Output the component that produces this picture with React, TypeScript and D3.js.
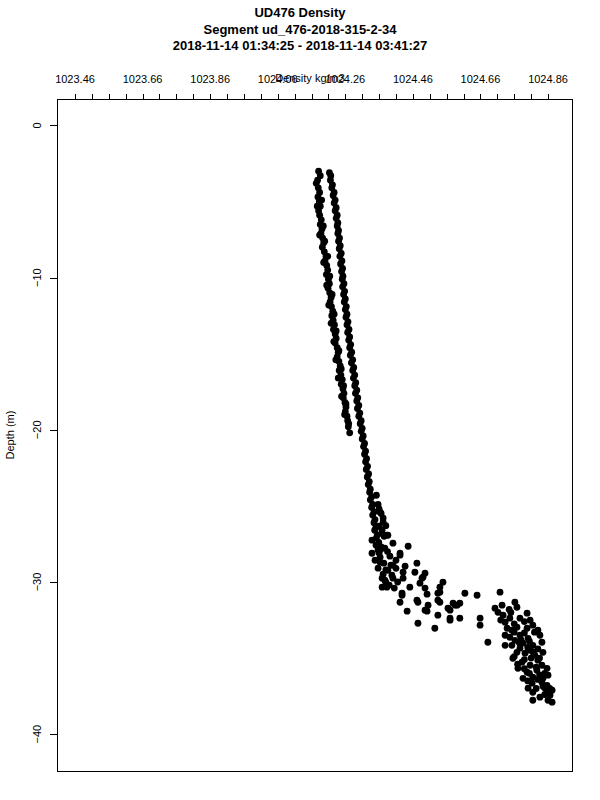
import React from "react";
import * as d3 from "d3";

const titleLines = [
  "UD476 Density",
  "Segment ud_476-2018-315-2-34",
  "2018-11-14 01:34:25 - 2018-11-14 03:41:27",
];
const xTitle = "Density kg/m3";
const yTitle = "Depth (m)";

const xLabelValues = [1023.46, 1023.66, 1023.86, 1024.06, 1024.26, 1024.46, 1024.66, 1024.86];
const xLabelTexts = ["1023.46", "1023.66", "1023.86", "1024.06", "1024.26", "1024.46", "1024.66", "1024.86"];
const yTickValues = [0, -10, -20, -30, -40];

// [density, depth]
const mainProfile: [number, number][] = [
  [1024.213,-3.1],[1024.217,-3.3],[1024.216,-3.6],[1024.222,-3.9],[1024.220,-4.1],[1024.227,-4.4],[1024.224,-4.6],[1024.230,-4.9],
  [1024.227,-5.1],[1024.233,-5.4],[1024.230,-5.6],[1024.236,-5.9],[1024.233,-6.1],[1024.238,-6.4],[1024.236,-6.6],[1024.240,-6.9],
  [1024.238,-7.1],[1024.243,-7.4],[1024.240,-7.6],[1024.245,-7.9],[1024.242,-8.1],[1024.248,-8.4],[1024.244,-8.6],[1024.250,-8.9],
  [1024.246,-9.1],[1024.252,-9.4],[1024.249,-9.6],[1024.253,-9.9],[1024.251,-10.1],[1024.256,-10.4],[1024.252,-10.6],[1024.258,-10.9],
  [1024.255,-11.1],[1024.260,-11.4],[1024.257,-11.6],[1024.263,-11.9],[1024.260,-12.1],[1024.265,-12.4],[1024.262,-12.6],[1024.268,-12.9],
  [1024.265,-13.1],[1024.271,-13.4],[1024.267,-13.6],[1024.273,-13.9],[1024.270,-14.1],[1024.276,-14.4],[1024.273,-14.6],[1024.279,-14.9],
  [1024.275,-15.1],[1024.282,-15.4],[1024.278,-15.6],[1024.285,-15.9],[1024.282,-16.1],[1024.288,-16.4],[1024.284,-16.6],[1024.291,-16.9],
  [1024.288,-17.1],[1024.294,-17.4],[1024.290,-17.6],[1024.297,-17.9],[1024.294,-18.1],[1024.300,-18.4],[1024.296,-18.6],[1024.303,-18.9],
  [1024.300,-19.1],[1024.307,-19.4],[1024.304,-19.6],[1024.310,-19.9],[1024.307,-20.1],[1024.313,-20.4],[1024.310,-20.6],[1024.317,-20.9],
  [1024.314,-21.1],[1024.320,-21.4],[1024.317,-21.6],[1024.323,-21.9],[1024.320,-22.1],[1024.326,-22.4],[1024.322,-22.6],[1024.329,-22.9],
  [1024.325,-23.1],[1024.331,-23.4],[1024.328,-23.6],[1024.334,-23.9],[1024.332,-24.1],[1024.338,-24.4],[1024.334,-24.6],[1024.341,-24.9],
  [1024.338,-25.1],[1024.345,-25.4],[1024.341,-25.6],[1024.348,-25.9],[1024.345,-26.1],[1024.351,-26.4],[1024.347,-26.6],[1024.355,-26.9],
  [1024.352,-27.1],[1024.359,-27.4],[1024.355,-27.6],[1024.363,-27.9],[1024.360,-28.1],
];

const leftBranch: [number, number][] = [
  [1024.181,-3.0],[1024.186,-3.3],[1024.178,-3.6],[1024.174,-3.8],[1024.180,-4.1],[1024.184,-4.4],[1024.179,-4.7],[1024.183,-5.0],
  [1024.186,-5.3],[1024.181,-5.6],[1024.184,-5.9],[1024.189,-6.2],[1024.186,-6.5],[1024.191,-6.8],[1024.188,-7.1],[1024.193,-7.4],
  [1024.196,-7.7],[1024.192,-8.0],[1024.198,-8.3],[1024.203,-8.6],[1024.200,-8.9],[1024.205,-9.2],[1024.208,-9.5],[1024.204,-9.8],
  [1024.210,-10.1],[1024.213,-10.4],[1024.209,-10.7],[1024.214,-11.0],[1024.218,-11.3],[1024.215,-11.6],[1024.219,-11.9],[1024.223,-12.2],
  [1024.220,-12.5],[1024.224,-12.8],[1024.228,-13.1],[1024.225,-13.4],[1024.230,-13.7],[1024.233,-14.0],[1024.230,-14.3],[1024.236,-14.6],
  [1024.239,-14.9],[1024.236,-15.2],[1024.241,-15.5],[1024.245,-15.8],[1024.242,-16.1],[1024.247,-16.4],[1024.251,-16.7],[1024.248,-17.0],
  [1024.253,-17.3],[1024.256,-17.6],[1024.254,-17.9],[1024.259,-18.2],[1024.262,-18.5],[1024.260,-18.8],[1024.265,-19.1],[1024.267,-19.4],
  [1024.269,-19.8],[1024.273,-20.2],
  [1024.190,-4.9],[1024.177,-5.3],[1024.195,-6.6],[1024.184,-7.2],[1024.199,-7.6],[1024.208,-8.6],[1024.196,-9.0],[1024.214,-9.9],
  [1024.205,-10.5],[1024.221,-11.1],[1024.211,-11.8],[1024.227,-12.4],[1024.218,-13.0],[1024.233,-13.5],[1024.226,-14.2],[1024.241,-14.8],
  [1024.232,-15.4],[1024.248,-16.0],[1024.239,-16.6],[1024.255,-17.1],[1024.249,-17.8],[1024.262,-18.3],[1024.258,-19.0],[1024.270,-19.6],
];

const transitionZone: [number, number][] = [
  [1024.339,-27.25],[1024.351,-27.58],[1024.357,-27.90],[1024.339,-28.11],[1024.363,-28.37],[1024.348,-28.57],[1024.374,-28.76],
  [1024.357,-29.09],[1024.386,-29.23],[1024.372,-29.49],[1024.398,-29.55],[1024.380,-30.01],[1024.360,-26.33],[1024.369,-26.59],
  [1024.377,-27.78],[1024.392,-28.30],[1024.410,-28.57],[1024.363,-25.41],[1024.372,-26.07],[1024.386,-26.92],[1024.401,-27.45],
  [1024.446,-27.65],[1024.422,-28.24],[1024.383,-26.92],[1024.422,-28.11],[1024.472,-28.76],[1024.466,-29.36],[1024.437,-28.96],
  [1024.496,-29.42],[1024.487,-29.75],[1024.481,-30.08],[1024.549,-30.01],[1024.540,-30.34],[1024.451,-30.34],[1024.428,-30.74],
  [1024.422,-31.33],[1024.475,-31.33],[1024.502,-30.80],[1024.505,-31.52],[1024.534,-30.74],[1024.540,-31.33],[1024.579,-31.39],
  [1024.591,-31.52],[1024.570,-31.85],[1024.614,-30.74],[1024.650,-30.87],[1024.443,-31.92],[1024.502,-31.92],[1024.570,-32.51],
  [1024.599,-32.38],[1024.534,-32.18],[1024.475,-32.71],[1024.525,-33.04],[1024.377,-29.88],[1024.369,-30.34],[1024.363,-28.70],
  [1024.401,-28.89],[1024.431,-29.36],[1024.490,-29.68],[1024.369,-29.75],[1024.401,-29.75],[1024.431,-29.75],[1024.383,-30.34],
  [1024.496,-30.40],[1024.540,-30.67],[1024.428,-30.87],[1024.472,-31.20],[1024.534,-31.20],[1024.718,-30.67],[1024.564,-31.72],
  [1024.585,-31.52],[1024.599,-31.39],[1024.496,-31.85],[1024.570,-32.38],[1024.659,-32.38],[1024.659,-32.84],[1024.703,-31.72],
  [1024.724,-31.52],[1024.682,-33.96],
  [1024.375,-27.0],[1024.366,-27.7],[1024.385,-28.0],[1024.395,-28.9],[1024.380,-29.2],[1024.410,-29.1],[1024.390,-30.2],
  [1024.415,-30.0],[1024.405,-30.4],[1024.368,-26.8],[1024.380,-26.3],[1024.372,-25.8],[1024.360,-25.2],[1024.352,-24.3],
  [1024.357,-24.9],[1024.366,-25.5],
];

const deepCluster: [number, number][] = [
  [1024.727,-32.18],[1024.747,-32.38],[1024.777,-32.38],[1024.798,-32.05],[1024.807,-32.51],[1024.739,-33.04],[1024.768,-32.97],
  [1024.798,-33.04],[1024.815,-32.84],[1024.836,-33.50],[1024.747,-33.63],[1024.777,-33.50],[1024.801,-33.70],[1024.753,-34.16],
  [1024.786,-34.02],[1024.815,-34.16],[1024.842,-33.96],[1024.768,-34.62],[1024.792,-34.68],[1024.821,-34.81],[1024.845,-34.62],
  [1024.756,-35.01],[1024.783,-35.27],[1024.807,-35.47],[1024.842,-35.47],[1024.857,-35.67],[1024.771,-35.67],[1024.798,-35.93],
  [1024.815,-36.26],[1024.845,-36.33],[1024.786,-36.33],[1024.813,-36.65],[1024.857,-36.79],[1024.842,-36.59],[1024.857,-37.25],
  [1024.815,-37.25],[1024.866,-37.44],[1024.872,-37.90],[1024.815,-37.77],[1024.860,-37.77],
  [1024.762,-31.33],[1024.768,-31.66],[1024.712,-31.99],[1024.733,-32.64],[1024.753,-33.17],[1024.830,-33.17],[1024.762,-33.83],
  [1024.733,-34.16],[1024.777,-34.35],[1024.807,-34.48],[1024.830,-35.14],[1024.860,-36.12],[1024.827,-35.80],[1024.801,-36.98],
  [1024.851,-36.98],[1024.872,-37.11],[1024.836,-37.57],[1024.733,-33.50],
  [1024.750,-32.00],[1024.790,-32.60],[1024.760,-32.75],[1024.820,-33.30],[1024.790,-33.35],[1024.760,-33.30],[1024.805,-33.90],
  [1024.830,-34.40],[1024.775,-34.00],[1024.800,-34.30],[1024.760,-34.90],[1024.810,-35.00],[1024.835,-35.00],[1024.790,-35.10],
  [1024.770,-35.40],[1024.825,-35.60],[1024.850,-36.00],[1024.790,-35.70],[1024.805,-36.00],[1024.830,-36.40],[1024.800,-36.50],
  [1024.845,-36.85],[1024.825,-37.00],[1024.865,-37.00],[1024.850,-37.40],[1024.835,-36.10],[1024.780,-33.80],[1024.720,-32.50],
  [1024.745,-31.80],[1024.815,-34.60],
];

const W = 600;
const H = 800;
const box = { left: 57, right: 572, top: 99, bottom: 771 };
const FONT = "'Liberation Sans', Arial, Helvetica, sans-serif";

export default function App() {
  const x = d3.scaleLinear().domain([1023.4067, 1024.931]).range([box.left, box.right]);
  const y = d3.scaleLinear().domain([1.74, -42.42]).range([box.top, box.bottom]);
  const minorTicks = d3.range(0, 29).map((i) => 1023.46 + i * 0.05);
  const allPoints = [...mainProfile, ...leftBranch, ...transitionZone, ...deepCluster];

  return (
    <svg
      width={W}
      height={H}
      style={{ position: "absolute", left: 0, top: 0, display: "block", background: "#fff" }}
      fontFamily={FONT}
    >
      <rect x={0} y={0} width={W} height={H} fill="#fff" />
      {titleLines.map((t, i) => (
        <text key={t} x={300} y={17 + i * 16.5} textAnchor="middle" fontSize={13} fontWeight="bold">
          {t}
        </text>
      ))}
      <rect
        x={box.left}
        y={box.top}
        width={box.right - box.left}
        height={box.bottom - box.top}
        fill="none"
        stroke="#000"
        strokeWidth={1}
        shapeRendering="crispEdges"
      />
      {minorTicks.map((v, i) => (
        <line
          key={i}
          x1={Math.round(x(v)) + 0.5}
          x2={Math.round(x(v)) + 0.5}
          y1={box.top}
          y2={box.top - 5}
          stroke="#000"
          shapeRendering="crispEdges"
        />
      ))}
      {xLabelValues.map((v, i) => (
        <text key={v} x={x(v)} y={83} textAnchor="middle" fontSize={11}>
          {xLabelTexts[i]}
        </text>
      ))}
      <text x={310} y={82} textAnchor="middle" fontSize={11}>
        {xTitle}
      </text>
      {yTickValues.map((v) => (
        <g key={v}>
          <line
            x1={box.left - 7}
            x2={box.left}
            y1={Math.round(y(v)) + 0.5}
            y2={Math.round(y(v)) + 0.5}
            stroke="#000"
            shapeRendering="crispEdges"
          />
          <text
            transform={`translate(41,${y(v)}) rotate(-90)`}
            textAnchor="middle"
            fontSize={11}
          >
            {String(v).replace("-", "\u2212")}
          </text>
        </g>
      ))}
      <text
        transform={`translate(13.5,${(box.top + box.bottom) / 2}) rotate(-90)`}
        textAnchor="middle"
        fontSize={11}
      >
        {yTitle}
      </text>
      <g fill="#000">
        {allPoints.map((p, i) => (
          <circle key={i} cx={x(p[0])} cy={y(p[1])} r={3.4} />
        ))}
      </g>
    </svg>
  );
}
